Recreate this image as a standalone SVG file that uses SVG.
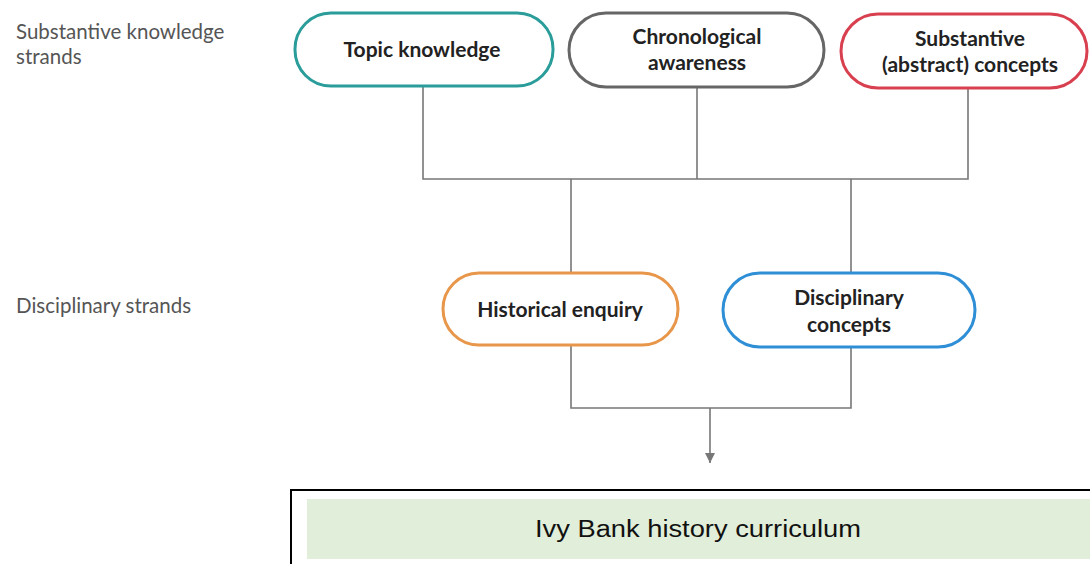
<svg xmlns="http://www.w3.org/2000/svg" width="1090" height="564" viewBox="0 0 1090 564">
<defs>
<style>
.pill{fill:#fff;stroke-width:3}
.lbl{font-family:Lato,"Open Sans",sans-serif;font-weight:bold;font-size:21px;fill:#222;text-anchor:middle}
.side{font-family:Lato,"Open Sans",sans-serif;font-size:20.5px;fill:#555}
.conn{fill:none;stroke:#777;stroke-width:1.6}
</style>
<marker id="arr" markerWidth="12" markerHeight="12" refX="10" refY="5" orient="auto" markerUnits="userSpaceOnUse">
<path d="M0,0 L10,5 L0,10 Z" fill="#777"/>
</marker>
</defs>
<rect width="1090" height="564" fill="#fff"/>
<g id="side-labels">
<text class="side" x="16" y="39">Substantive knowledge</text>
<text class="side" x="16" y="64">strands</text>
<text class="side" x="16" y="313">Disciplinary strands</text>
</g>
<g id="connectors">
<path class="conn" d="M423,86 V179 H968 V88"/>
<path class="conn" d="M697,88 V179"/>
<path class="conn" d="M571,179 V273 M851,179 V273"/>
<path class="conn" d="M571,345 V408 H851 V347"/>
<path class="conn" d="M710,408 V463" marker-end="url(#arr)"/>
</g>
<g id="topic">
<rect class="pill" x="295" y="13" width="258" height="73" rx="36" stroke="#2a9d9a"/>
<text class="lbl" x="422" y="57">Topic knowledge</text>
</g>
<g id="chrono">
<rect class="pill" x="569" y="13" width="255" height="74" rx="37" stroke="#666"/>
<text class="lbl" x="697" y="44">Chronological</text>
<text class="lbl" x="697" y="70">awareness</text>
</g>
<g id="substantive">
<rect class="pill" x="841" y="14" width="246" height="74" rx="37" stroke="#d9404f"/>
<text class="lbl" x="970" y="46">Substantive</text>
<text class="lbl" x="970" y="72">(abstract) concepts</text>
</g>
<g id="enquiry">
<rect class="pill" x="443" y="273" width="235" height="72" rx="36" stroke="#e8964a"/>
<text class="lbl" x="560" y="317">Historical enquiry</text>
</g>
<g id="disc">
<rect class="pill" x="723" y="273" width="252" height="74" rx="37" stroke="#2f8fd6"/>
<text class="lbl" x="849" y="305">Disciplinary</text>
<text class="lbl" x="849" y="332">concepts</text>
</g>
<g id="curriculum">
<rect x="291" y="490" width="820" height="90" fill="#fff" stroke="#000" stroke-width="2"/>
<rect x="307" y="499" width="790" height="60" fill="#e1eed9"/>
<text x="698" y="537" font-family="'Liberation Sans',Arial,sans-serif" font-size="23" fill="#111" text-anchor="middle" textLength="326" lengthAdjust="spacingAndGlyphs">Ivy Bank history curriculum</text>
</g>
</svg>
